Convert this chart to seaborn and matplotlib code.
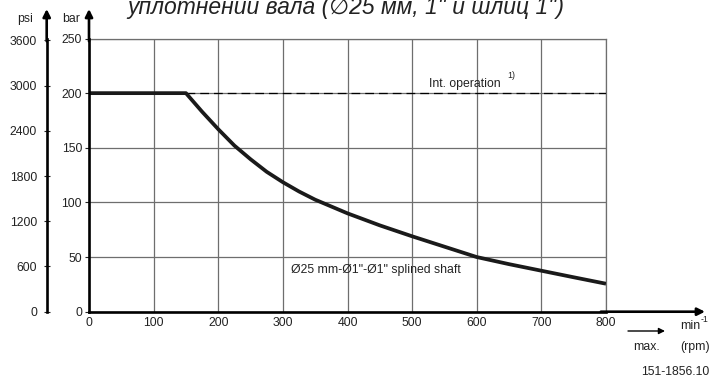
import matplotlib
matplotlib.use("Agg")
import matplotlib.pyplot as plt
import seaborn as sns
import pandas as pd

# ---- data ----
rpm = [0, 150, 175, 200, 225, 250, 275, 300, 325, 350, 400, 450, 500, 550, 600, 650, 700, 750, 800]
pressure_bar = [200, 200, 183, 167, 152, 139.5, 128, 118.5, 110, 102.5, 90, 79, 69, 59.5, 50, 43.5, 37.5, 31.5, 25.6]
int_rpm = [150, 800]
int_bar = [200, 200]
x_ticks = [0, 100, 200, 300, 400, 500, 600, 700, 800]
bar_ticks = [0, 50, 100, 150, 200, 250]
psi_ticks = [0, 600, 1200, 1800, 2400, 3000, 3600]
title = "уплотнении вала (\u220525 мм, 1\" и шлиц 1\")"
curve_label = "Ø25 mm-Ø1\"-Ø1\" splined shaft"
int_label = "Int. operation"
code_label = "151-1856.10"

BAR_TO_PSI = 14.5038
FS = 8.8
FS_SUP = 6.3

sns.set_style("white")
plt.rcParams["font.family"] = ["Liberation Sans", "DejaVu Sans"]

W, H = 711, 381
fig = plt.figure(figsize=(W / 100, H / 100), dpi=100)

x0, x1 = 89, 606
y0, y1 = 311.7, 38.5
ax = fig.add_axes([x0 / W, 1 - y0 / H, (x1 - x0) / W, (y0 - y1) / H])

df = pd.DataFrame({"rpm": rpm, "bar": pressure_bar})
sns.lineplot(data=df, x="rpm", y="bar", ax=ax, color="#1a1a1a", lw=2.7,
             solid_capstyle="butt", solid_joinstyle="round", zorder=5)
ax.plot(int_rpm, int_bar, color="black", lw=0.9, ls=(0, (7, 4)), zorder=4)

ax.set_xlim(0, 800)
ax.set_ylim(0, 250)
ax.set_xticks(x_ticks)
ax.set_yticks(bar_ticks)
ax.set_xlabel("")
ax.set_ylabel("")
ax.grid(True, color="#6e6e6e", lw=0.9)
for s in ["top", "right"]:
    ax.spines[s].set_color("#6e6e6e")
    ax.spines[s].set_linewidth(0.9)
for s in ["left", "bottom"]:
    ax.spines[s].set_color("black")
    ax.spines[s].set_linewidth(1.9)
    ax.spines[s].set_zorder(6)
ax.tick_params(axis="x", length=0, pad=3.5, labelsize=FS, colors="#222")
ax.tick_params(axis="y", length=3, width=0.8, direction="out", pad=2, labelsize=FS, colors="#222")

# psi axis
ax2 = ax.twinx()
ax2.set_ylim(0, 250 * BAR_TO_PSI)
ax2.set_yticks(psi_ticks)
psi_off = (46.7 - x0) / (x1 - x0)
for s in ["top", "right", "bottom"]:
    ax2.spines[s].set_visible(False)
ax2.spines["left"].set_visible(True)
ax2.spines["left"].set_position(("axes", psi_off))
ax2.spines["left"].set_color("black")
ax2.spines["left"].set_linewidth(1.9)
ax2.yaxis.set_ticks_position("left")
ax2.yaxis.set_label_position("left")
ax2.tick_params(axis="y", length=4, width=0.8, direction="inout", pad=5, labelsize=FS, colors="#222")
ax2.grid(False)

arrow_kw = dict(arrowstyle="-|>", lw=1.9, color="black", mutation_scale=11,
                shrinkA=0, shrinkB=0)
top_frac = (y0 - 9) / (y0 - y1)
ax.annotate("", xy=(0, top_frac), xytext=(0, 0.99), xycoords="axes fraction",
            arrowprops=arrow_kw)
ax.annotate("", xy=(psi_off, top_frac), xytext=(psi_off, 0.99), xycoords="axes fraction",
            arrowprops=arrow_kw)
ax.annotate("", xy=((705 - x0) / (x1 - x0), 0), xytext=(0.99, 0), xycoords="axes fraction",
            arrowprops=arrow_kw)

# axis names
fig.text(25 / W, 1 - 19 / H, "psi", fontsize=FS, ha="center", va="center", color="#222")
fig.text(71 / W, 1 - 19 / H, "bar", fontsize=FS, ha="center", va="center", color="#222")

# title (partially cut at top as in the reference)
fig.text(127 / W, 1 - 14 / H, title, fontsize=16.5, style="italic", ha="left",
         va="baseline", color="#222")

# in-plot labels
ax.text(526, 205.6, int_label, fontsize=FS, ha="left", va="baseline", color="#222")
fig.text(507 / W, 1 - 75 / H, "1)", fontsize=FS_SUP, ha="left", va="center", color="#222")
ax.text(312, 35, curve_label, fontsize=FS, ha="left", va="baseline", color="#222")

# bottom right annotations
ax.annotate("", xy=(665 / W, 1 - 331 / H), xytext=(628 / W, 1 - 331 / H),
            xycoords="figure fraction",
            arrowprops=dict(arrowstyle="-|>", lw=1.0, color="black", mutation_scale=9,
                            shrinkA=0, shrinkB=0))
fig.text(647 / W, 1 - 347 / H, "max.", fontsize=FS, ha="center", va="center", color="#222")
fig.text(680 / W, 1 - 326 / H, "min", fontsize=FS, ha="left", va="center", color="#222")
fig.text(700.5 / W, 1 - 320 / H, "-1", fontsize=FS_SUP, ha="left", va="center", color="#222")
fig.text(695 / W, 1 - 347 / H, "(rpm)", fontsize=FS, ha="center", va="center", color="#222")
fig.text(709 / W, 1 - 372 / H, code_label, fontsize=FS, ha="right", va="center", color="#222")

fig.savefig("out.png", dpi=100)
